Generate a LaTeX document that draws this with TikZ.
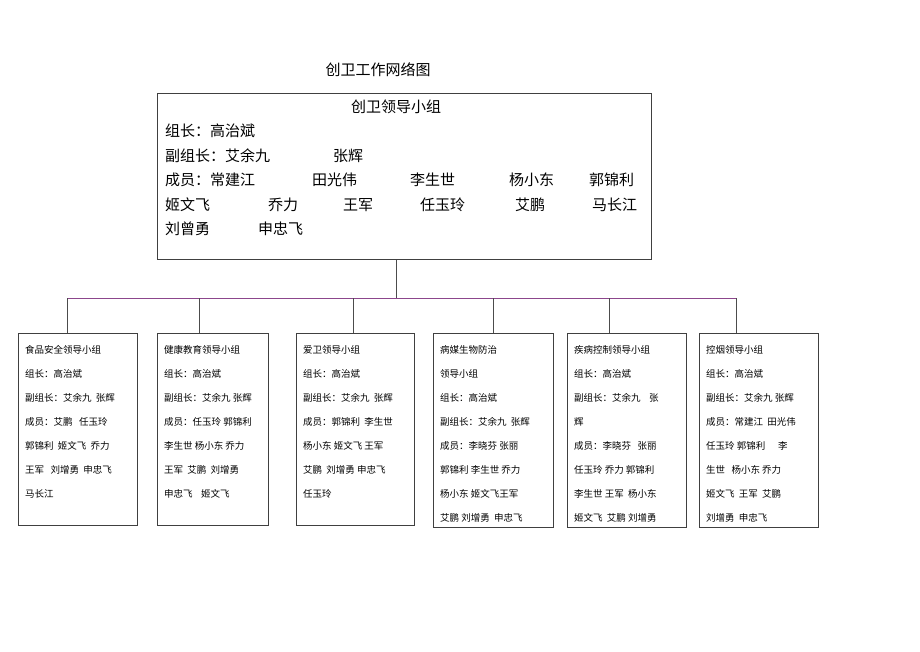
\documentclass[tikz,border=0pt]{standalone}
\usepackage{fontspec}
\newfontfamily\cjk{Noto Sans CJK SC}
\definecolor{pur}{RGB}{140,70,140}
\begin{document}
\begin{tikzpicture}[x=1pt,y=-1pt,
  box/.style={draw=black!75,line width=0.6pt},
  big/.style={font=\cjk\fontsize{15}{15}\selectfont,anchor=west,inner sep=0},
  sm/.style={font=\cjk\fontsize{9.5}{9.5}\selectfont,anchor=west,inner sep=0},
  ln/.style={draw=black!70,line width=0.6pt}]
\useasboundingbox (0,0) rectangle (920,651);
\node[font=\cjk\fontsize{15}{15}\selectfont] (title) at (378,70) {创卫工作网络图};
\node[box,minimum width=494pt,minimum height=166pt,anchor=north west,inner sep=0] (main) at (157,93) {};
\node[font=\cjk\fontsize{15}{15}\selectfont] (mt) at (396,107) {创卫领导小组};
\node[big] (m1) at (165,131) {组长：高治斌};
\node[big] (m2) at (165,156) {副组长：艾余九};
\node[big] (m2b) at (333,156) {张辉};
\node[big] (m3) at (165,180) {成员：常建江};
\node[big] at (312,180) {田光伟};
\node[big] at (410,180) {李生世};
\node[big] at (509,180) {杨小东};
\node[big] at (589,180) {郭锦利};
\node[big] at (165,205) {姬文飞};
\node[big] at (268,205) {乔力};
\node[big] at (343,205) {王军};
\node[big] at (420,205) {任玉玲};
\node[big] at (515,205) {艾鹏};
\node[big] at (592,205) {马长江};
\node[big] at (165,229) {刘曾勇};
\node[big] at (258,229) {申忠飞};
\coordinate (hub) at (396,298);
\draw[ln] (main.south -| hub) -- (hub);
\draw[pur,line width=0.8pt] (67,298) -- (736,298);
\foreach \n/\l/\r/\d/\b in {a/18/137/67/525, b/157/268/199/525, c/296/414/353/525, d/433/553/493/527, e/567/686/609/527, f/699/818/736/527}{
  \node[box,anchor=north west,minimum width={\r-\l},minimum height={\b-333},inner sep=0] (\n) at (\l,333) {};
  \draw[ln] (\d,298) -- (\d,333);
}
\newcommand\blines[2]{%
  \foreach \t [count=\i from 0] in {#2}{\node[sm] at (#1+7,350+24*\i) {\t};}}
\blines{18}{食品安全领导小组,组长：高治斌,副组长：艾余九\ \ 张辉,成员：艾鹏\ \ \ 任玉玲,郭锦利\ \ 姬文飞\ \ 乔力,王军\ \ \ 刘增勇\ \ 申忠飞,马长江}
\blines{157}{健康教育领导小组,组长：高治斌,副组长：艾余九\ 张辉,成员：任玉玲\ 郭锦利,李生世\ 杨小东\ 乔力,王军\ \ 艾鹏\ \ 刘增勇,申忠飞\ \ \ \ 姬文飞}
\blines{296}{爱卫领导小组,组长：高治斌,副组长：艾余九\ \ 张辉,成员：郭锦利\ \ 李生世,杨小东\ 姬文飞\ 王军,艾鹏\ \ 刘增勇\ 申忠飞,任玉玲}
\blines{433}{病媒生物防治,领导小组,组长：高治斌,副组长：艾余九\ \ 张辉,成员：李晓芬\ 张丽,郭锦利\ 李生世\ 乔力,杨小东\ 姬文飞王军,艾鹏\ 刘增勇\ \ 申忠飞}
\blines{567}{疾病控制领导小组,组长：高治斌,副组长：艾余九\ \ \ \ 张,辉,成员：李晓芬\ \ \ 张丽,任玉玲\ 乔力\ 郭锦利,李生世\ 王军\ \ 杨小东,姬文飞\ \ 艾鹏\ 刘增勇}
\blines{699}{控烟领导小组,组长：高治斌,副组长：艾余九\ 张辉,成员：常建江\ \ 田光伟,任玉玲\ 郭锦利\ \ \ \ \ \ 李,生世\ \ \ 杨小东\ 乔力,姬文飞\ \ 王军\ \ 艾鹏,刘增勇\ \ 申忠飞}
\end{tikzpicture}
\end{document}
